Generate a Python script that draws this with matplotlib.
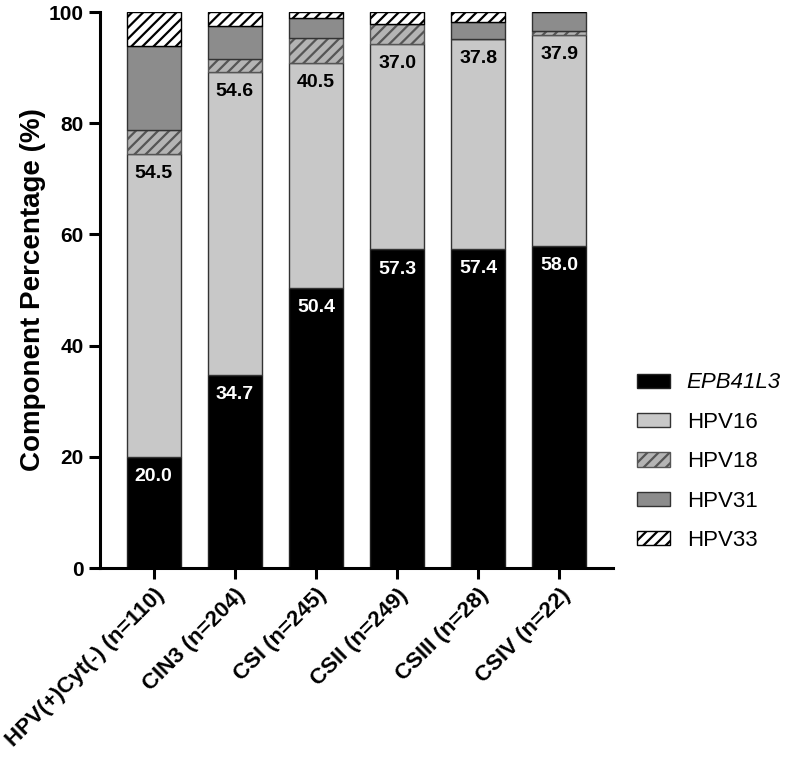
import matplotlib.pyplot as plt
import numpy as np

plt.rcParams['font.family'] = ['Liberation Sans', 'DejaVu Sans']
plt.rcParams['hatch.linewidth'] = 1.6

groups = ["HPV(+)Cyt(-) (n=110)", "CIN3 (n=204)", "CSI (n=245)",
          "CSII (n=249)", "CSIII (n=28)", "CSIV (n=22)"]
epb41l3 = [20.0, 34.7, 50.4, 57.3, 57.4, 58.0]
hpv16 = [54.5, 54.6, 40.5, 37.0, 37.8, 37.9]
hpv18 = [4.3, 2.2, 4.5, 3.5, 0.0, 0.6]
hpv31 = [15.1, 6.0, 3.5, 0.0, 3.0, 3.5]
hpv33 = [6.1, 2.5, 1.1, 2.2, 1.8, 0.0]

series = [
    ("EPB41L3", epb41l3, "black", "#222222", None),
    ("HPV16", hpv16, "#c8c8c8", "#333333", None),
    ("HPV18", hpv18, "#b4b4b4", "#555555", "///"),
    ("HPV31", hpv31, "#8c8c8c", "#333333", None),
    ("HPV33", hpv33, "white", "black", "///"),
]

fig = plt.figure(figsize=(7.95, 7.6), dpi=100)
ax = fig.add_axes([0.126, 0.2526, 0.645, 0.7316])

x = np.arange(len(groups))
bottom = np.zeros(len(groups))
handles = []
for name, vals, fc, ec, hatch in series:
    vals = np.array(vals)
    b = ax.bar(x, vals, width=0.665, bottom=bottom, color=fc, edgecolor=ec,
               linewidth=1.0, hatch=hatch, label=name)
    handles.append(b)
    # value labels only on the two main segments
    if name in ("EPB41L3", "HPV16"):
        tc = "white" if name == "EPB41L3" else "black"
        for i, v in enumerate(vals):
            ax.annotate(f"{v:.1f}", xy=(x[i], bottom[i] + v), xytext=(0, -8),
                        textcoords="offset points", ha="center", va="top",
                        color=tc, fontsize=14, fontweight="bold")
    bottom += vals

ax.set_xlim(-0.66, 5.66)
ax.set_ylim(0, 100)
ax.set_yticks([0, 20, 40, 60, 80, 100])
ax.set_xticks(x)
ax.set_xticklabels(groups, rotation=45, ha="right", rotation_mode="anchor")
for lab in ax.get_xticklabels():
    lab.set_fontweight("bold")
    lab.set_fontsize(16)
for lab in ax.get_yticklabels():
    lab.set_fontweight("bold")
    lab.set_fontsize(15)
ax.tick_params(width=2.2, length=8, pad=4)
ax.set_ylabel("Component Percentage (%)", fontsize=20, fontweight="bold")
ax.yaxis.set_label_coords(-0.105, 0.5)

ax.spines["top"].set_visible(False)
ax.spines["right"].set_visible(False)
ax.spines["left"].set_linewidth(2.2)
ax.spines["bottom"].set_linewidth(2.2)

leg = fig.legend(handles, ["EPB41L3", "HPV16", "HPV18", "HPV31", "HPV33"],
                 loc="upper left", bbox_to_anchor=(0.801, 0.51), frameon=False,
                 fontsize=16, handlelength=1.5, handleheight=0.6,
                 handletextpad=0.75, labelspacing=0.83, borderpad=0, borderaxespad=0)
leg.get_texts()[0].set_fontstyle("italic")

fig.savefig("out.png", dpi=100)
